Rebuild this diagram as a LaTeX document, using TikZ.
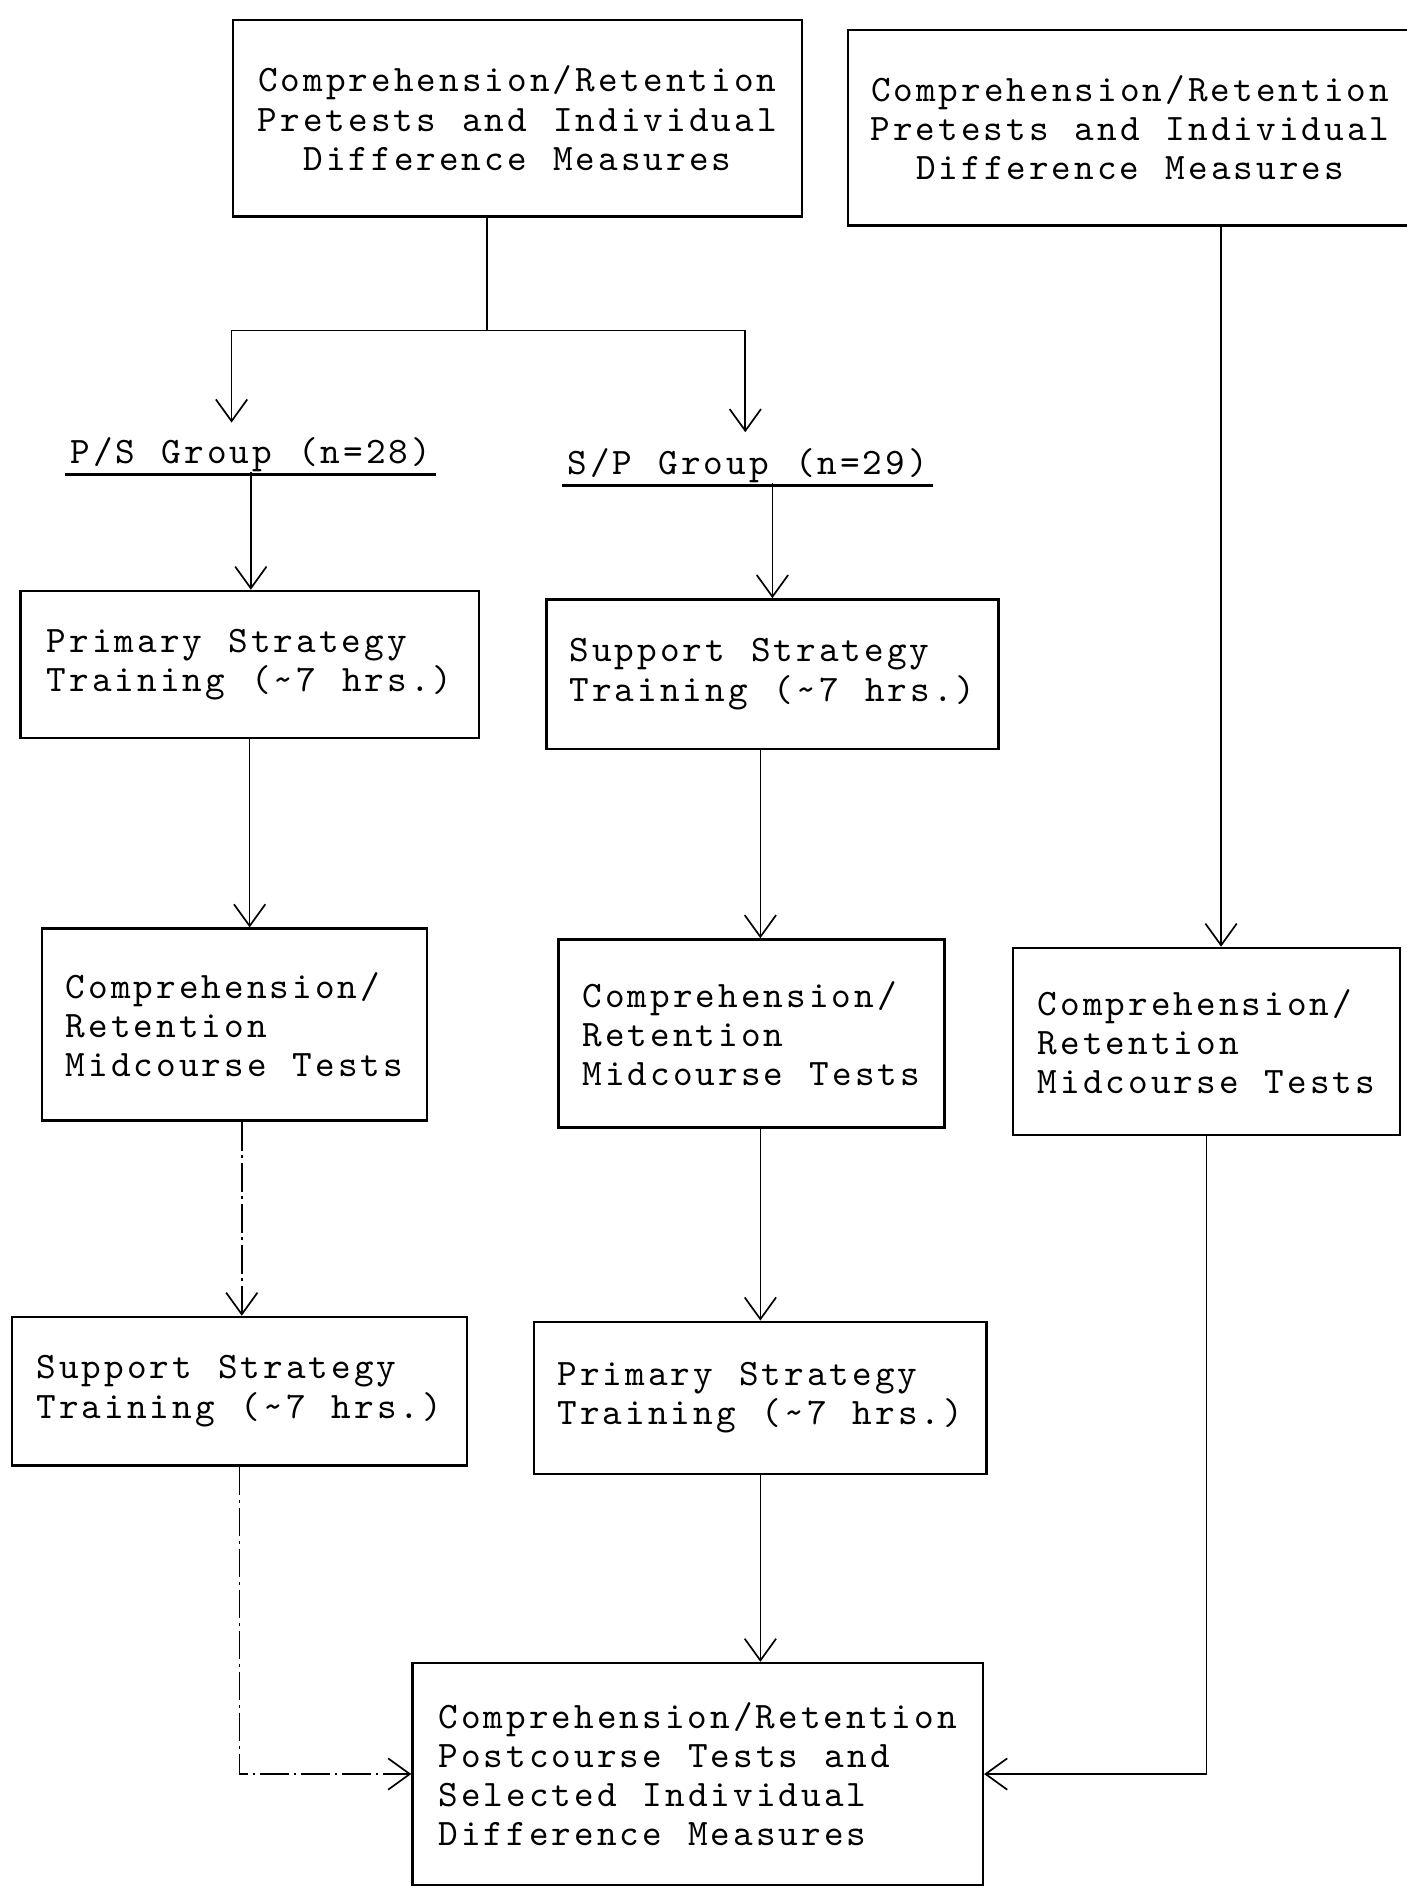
\documentclass[tikz,border=0pt]{standalone}
\usepackage{fontspec}
\usepackage{tikz}
\usetikzlibrary{arrows.meta,positioning,calc}
\newfontfamily\typewriter{lmmono10-regular}[Extension=.otf, LetterSpace=8.1, WordSpace={1.155,0,0}]

\begin{document}
\begin{tikzpicture}[x=0.5pt,y=-0.5pt]
          \useasboundingbox (0,0) rectangle (1166,1568);
          \tikzstyle{flow}=[->,>={Straight Barb[length=9pt,width=13pt]},line width=0.7pt]
          \tikzstyle{every edge}=[flow,draw]
          \tikzstyle{dashdot}=[dash pattern=on 12pt off 2pt on 1pt off 2pt]
          \tikzstyle{every node}=[font=\typewriter\fontsize{15.5}{16.2}\selectfont]
          \tikzstyle{testbox}=[draw,line width=1pt,rectangle,align=center]
          \tikzstyle{stagebox}=[draw,line width=1pt,rectangle,align=left]
          \tikzstyle{grouplabel}=[inner sep=0pt]

          % Pretests
          \node[testbox, minimum width=236pt, minimum height=81.5pt] (preL) at (429,98) {Comprehension/Retention\\Pretests and Individual\\Difference Measures};
          \node[testbox, minimum width=234pt, minimum height=81pt] (preR) at (937,106) {Comprehension/Retention\\Pretests and Individual\\Difference Measures};

          % Groups
          \node[grouplabel] (psgroup) at (208,377) {P/S Group (n=28)};
          \node[grouplabel] (spgroup) at (620,386) {S/P Group (n=29)};
          \draw[line width=1pt] ([xshift=-2pt,yshift=-1pt]psgroup.south west) -- ([xshift=2pt,yshift=-1pt]psgroup.south east);
          \draw[line width=1pt] ([xshift=-2pt,yshift=-1pt]spgroup.south west) -- ([xshift=2pt,yshift=-1pt]spgroup.south east);

          % First training
          \node[stagebox, minimum width=190pt, minimum height=61pt] (primL) at (207,551) {Primary Strategy\\Training (\textasciitilde 7 hrs.)};
          \node[stagebox, minimum width=187.5pt, minimum height=62pt] (supR) at (640.5,559) {Support Strategy\\Training (\textasciitilde 7 hrs.)};

          % Midcourse tests
          \node[stagebox, minimum width=159.5pt, minimum height=79.5pt] (midL) at (194.5,849.5) {Comprehension/\\Retention\\Midcourse Tests};
          \node[stagebox, minimum width=160pt, minimum height=78pt] (midC) at (623,857) {Comprehension/\\Retention\\Midcourse Tests};
          \node[stagebox, minimum width=160.5pt, minimum height=77.5pt] (midR) at (1000.5,863.5) {Comprehension/\\Retention\\Midcourse Tests};

          % Second training
          \node[stagebox, minimum width=188.5pt, minimum height=61.5pt] (supL) at (198.5,1153.5) {Support Strategy\\Training (\textasciitilde 7 hrs.)};
          \node[stagebox, minimum width=187.5pt, minimum height=63pt] (primR) at (630.5,1159) {Primary Strategy\\Training (\textasciitilde 7 hrs.)};

          % Postcourse
          \node[stagebox, minimum width=236.5pt, minimum height=92pt] (post) at (578.5,1471) {Comprehension/Retention\\Postcourse Tests and\\Selected Individual\\Difference Measures};

          % split into groups
          \coordinate (split) at (404,274);
          \draw[line width=0.7pt] (split |- preL.south) -- (split);
          \draw[flow, shorten >=6pt] (split) -| ([xshift=-8pt]psgroup.north);
          \draw[flow, shorten >=6.5pt] (split) -| ([xshift=-1pt]spgroup.north);

          \path (psgroup.south) edge (psgroup.south |- primL.north);
          \path (spgroup.south -| supR.north) edge (supR.north);
          \path (primL.south) edge (primL.south |- midL.north);
          \path ([xshift=-5pt]supR.south) edge ([xshift=-5pt]supR.south |- midC.north);
          \path ([xshift=6pt]midR.north |- preR.south) edge ([xshift=6pt]midR.north);
          \path ([xshift=3pt]midL.south) edge[dashdot] ([xshift=3pt]midL.south |- supL.north);
          \path (midC.south -| primR.north) edge (primR.north);
          \path (primR.south) edge (primR.south |- post.north);
          \draw[flow, dashdot] (supL.south) |- (post.west);
          \draw[flow] (midR.south) |- (post.east);

\end{tikzpicture}
\end{document}
